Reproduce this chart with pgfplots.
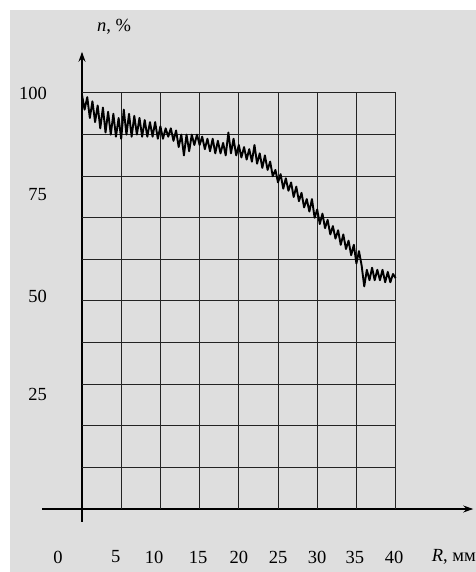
\documentclass[border=0pt]{standalone}
\usepackage{pgfplots}
\pgfplotsset{compat=1.18}
\usepackage{fontspec}
\setmainfont{Liberation Serif}
\usetikzlibrary{arrows.meta}
\definecolor{bg}{RGB}{222,222,222}
\definecolor{gridc}{RGB}{35,35,35}

\pgfplotstableread{
x y
0.00 99.5
0.33 96
0.67 99
1.00 94
1.33 98
1.67 93
2.00 97
2.33 91.5
2.67 96.5
3.00 90.5
3.33 95.5
3.67 90
4.00 95
4.33 89.5
4.67 94
5.00 89
5.33 96
5.67 90
6.00 95
6.33 89.5
6.67 94.5
7.00 90
7.33 94
7.67 89.5
8.00 93.5
8.33 89.5
8.67 93
9.00 89.5
9.33 93
9.67 89
10.00 92
10.33 89
10.67 91.5
11.00 89.5
11.33 91.5
11.67 88.5
12.00 91
12.33 87
12.67 90
13.00 85
13.33 90
13.67 86
14.00 90
14.33 87.5
14.67 90
15.00 87.5
15.33 89.5
15.67 86.5
16.00 89
16.33 86
16.67 89
17.00 85.5
17.33 88.5
17.67 85.5
18.00 88
18.33 85
18.67 90.5
19.00 85.5
19.33 89
19.67 85
20.00 87.5
20.33 84.5
20.67 87
21.00 84
21.33 86.5
21.67 83.5
22.00 87.5
22.33 83
22.67 85.5
23.00 82
23.33 85
23.67 81.5
24.00 83.5
24.33 80
24.67 81.5
25.00 78.5
25.33 80.5
25.67 77
26.00 79.5
26.33 76.5
26.67 78.5
27.00 75
27.33 77.5
27.67 74
28.00 76
28.33 72.5
28.67 74.5
29.00 71.5
29.33 74.5
29.67 70
30.00 72
30.33 68.5
30.67 71
31.00 67.5
31.33 69.5
31.67 66
32.00 68
32.33 65
32.67 67
33.00 63.5
33.33 66
33.67 62.5
34.00 64.5
34.33 61
34.67 63.5
35.00 59
35.33 62
35.67 58.5
36.00 53.5
36.33 57.5
36.67 55
37.00 58
37.33 55
37.67 57.5
38.00 55
38.33 57.5
38.67 54.5
39.00 57
39.33 54.5
39.67 56.5
40.00 55.5
}\curve

\begin{document}
\begin{tikzpicture}
\fill[white] (-82bp,-63bp) rectangle (394bp,509bp);
\fill[bg] (-72bp,-63bp) rectangle (394bp,499bp);
\begin{axis}[
  at={(0,0)}, anchor=origin,
  x=7.84bp, y=4.16bp,
  xmin=-5.1, xmax=49.9, ymin=-3.1, ymax=109.9,
  axis lines=middle,
  axis line style={line width=1.1bp, black, -{Stealth[length=10bp,width=7bp]}},
  clip=false,
  major tick length=0pt,
  /pgf/number format/assume math mode=true,
  xtick={-3.06,4.3,9.2,14.8,20,25,30,34.8,39.8},
  xticklabels={0,5,10,15,20,25,30,35,40},
  ytick={27.5,51,75.5,100},
  yticklabels={25,50,75,100},
  tick label style={font=\fontsize{18.5bp}{21bp}\selectfont, inner sep=0pt},
  xticklabel style={anchor=center, yshift=-48bp},
  yticklabel style={anchor=east, xshift=-35bp},
]
\pgfplotsinvokeforeach{5,10,15,20,25,30,35,40}{
  \draw[gridc, line width=1bp] (axis cs:#1,0) -- (axis cs:#1,100);
}
\pgfplotsinvokeforeach{10,20,30,40,50,60,70,80,90,100}{
  \draw[gridc, line width=1bp] (axis cs:0,#1) -- (axis cs:40,#1);
}
\addplot[black, line width=1.9bp, line join=round] table[x=x,y=y] {\curve};
\node[font=\fontsize{18.5bp}{21bp}\selectfont, anchor=center] at (axis cs:4.1,115.9) {\textit{n}, \%};
\node[font=\fontsize{18.5bp}{21bp}\selectfont, anchor=west, inner sep=0pt] at (axis cs:44.6,-11.5) {\textit{R}, мм};
\end{axis}
\pgfresetboundingbox
\path[use as bounding box] (-82bp,-63bp) rectangle (394bp,509bp);
\end{tikzpicture}
\end{document}
